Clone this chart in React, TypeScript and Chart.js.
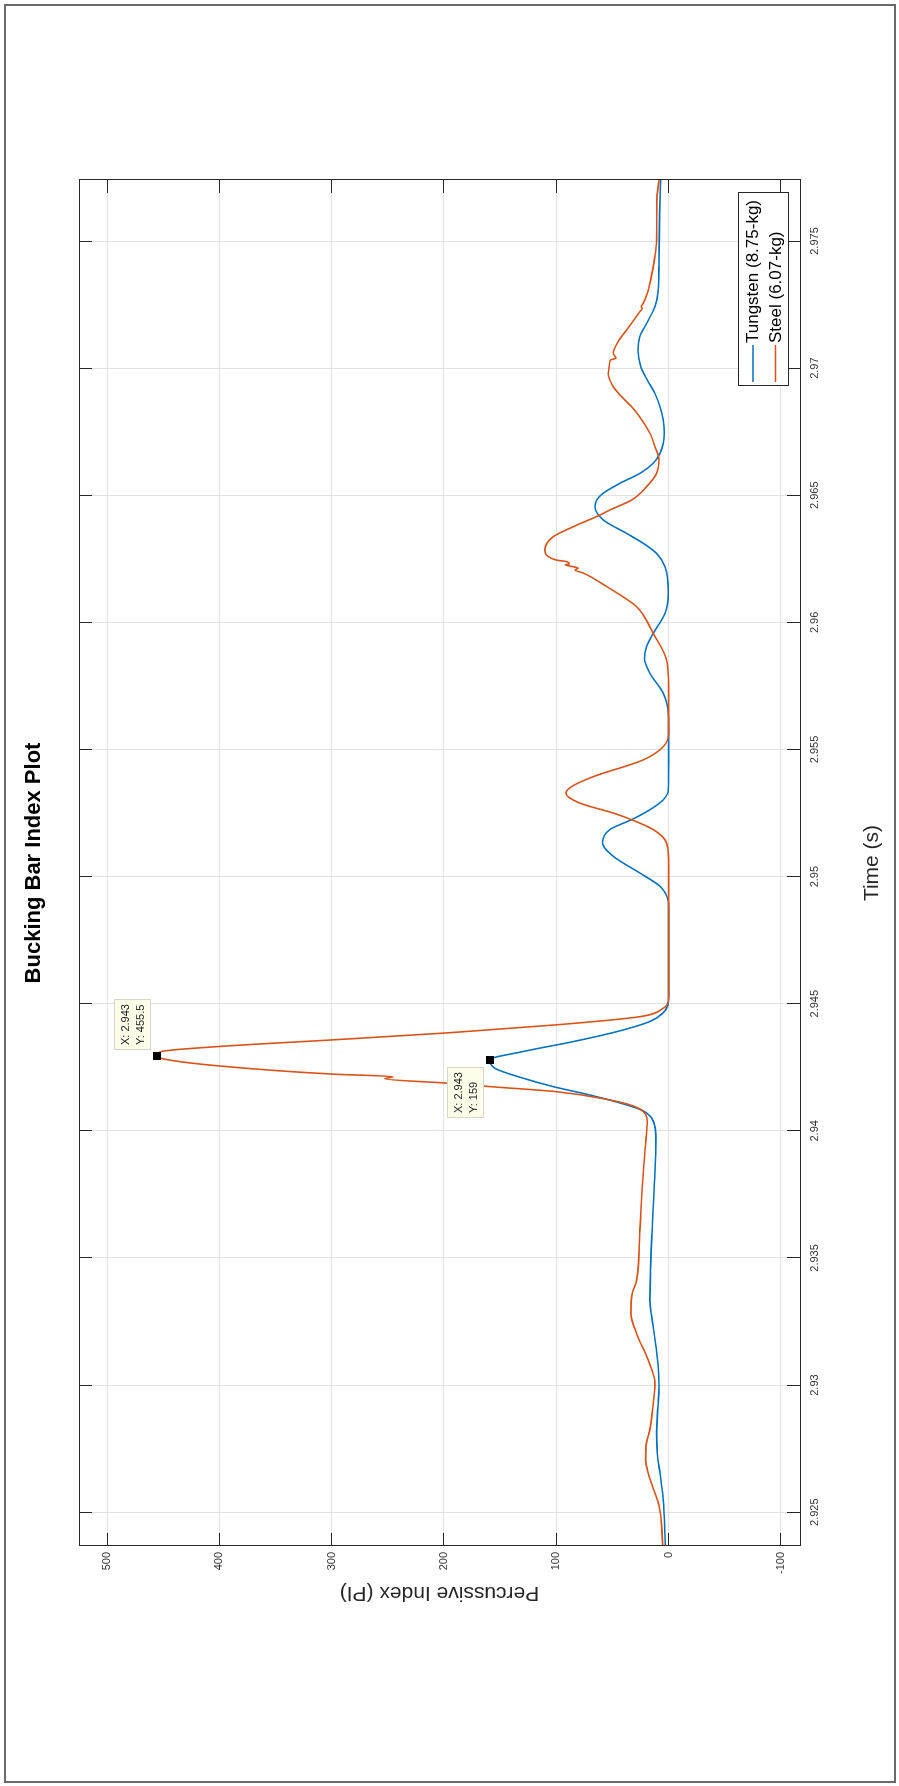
import React, { useEffect, useRef } from 'react';
import { Chart, registerables } from 'chart.js';

Chart.register(...registerables);

// ---------------- data ----------------
const chartTitle = 'Bucking Bar Index Plot';
const timeAxisTitle = 'Time (s)';
const piAxisTitle = 'Percussive Index (PI)';
const seriesNames = ['Tungsten (8.75-kg)', 'Steel (6.07-kg)'];

const timeRange = [2.92367, 2.9774];
const piRange = [-117, 525];

const timeTicks = [2.925, 2.93, 2.935, 2.94, 2.945, 2.95, 2.955, 2.96, 2.965, 2.97, 2.975];
const timeTickLabels = ['2.925', '2.93', '2.935', '2.94', '2.945', '2.95', '2.955', '2.96', '2.965', '2.97', '2.975'];
const piTicks = [-100, 0, 100, 200, 300, 400, 500];
const piTickLabels = ['-100', '0', '100', '200', '300', '400', '500'];

const tungstenTime = [
  2.92367, 2.92548, 2.92653, 2.92733, 2.92811, 2.92915, 2.92994, 2.93072, 2.9323, 2.93335,
  2.93466, 2.93702, 2.93964, 2.94016, 2.94056, 2.94082, 2.94108, 2.94141, 2.94174, 2.94207,
  2.94246, 2.94279, 2.94312, 2.94351, 2.9439, 2.9443, 2.94462, 2.94495, 2.9453, 2.947,
  2.9488, 2.94909, 2.94962, 2.95014, 2.9508, 2.95133, 2.95185, 2.95224, 2.95263, 2.95302,
  2.9534, 2.9545, 2.95565, 2.95642, 2.95721, 2.958, 2.95859, 2.95904, 2.95957, 2.96035,
  2.96114, 2.96219, 2.96271, 2.96311, 2.9635, 2.96403, 2.96455, 2.96481, 2.96508, 2.96547,
  2.96586, 2.96626, 2.96665, 2.96744, 2.96796, 2.96848, 2.96901, 2.96953, 2.97006, 2.97071,
  2.97124, 2.97176, 2.97242, 2.97307, 2.97412, 2.97609, 2.9774,
];
const tungstenPI = [
  3.0, 4.8, 7.7, 10.1, 10.7, 9.5, 8.6, 9.2, 13.7, 16.7,
  16.0, 13.7, 11.3, 12.2, 16.0, 24.0, 41.9, 70.1, 102.8, 129.5,
  154.7, 159.0, 129.5, 85.0, 46.3, 16.7, 5.3, 0.6, 0.0, 0.0,
  0.0, 0.6, 7.7, 25.6, 49.3, 58.8, 52.3, 33.0, 16.7, 4.8,
  0.3, 0.0, 0.0, 0.3, 4.8, 16.7, 21.4, 19.6, 13.7, 3.3,
  0.3, 3.3, 10.7, 22.6, 37.4, 58.2, 65.6, 64.1, 58.2, 43.4,
  25.6, 13.7, 7.7, 3.9, 4.8, 7.7, 12.2, 19.0, 24.7, 27.3,
  25.6, 19.6, 12.2, 9.2, 8.6, 8.0, 7.1,
];

const steelTime = [
  2.92367, 2.92444, 2.92522, 2.92601, 2.92653, 2.92706, 2.92758, 2.92824, 2.92928, 2.93007,
  2.93098, 2.93203, 2.93282, 2.93361, 2.93413, 2.9361, 2.93833, 2.93964, 2.94037, 2.94076,
  2.94098, 2.94124, 2.94154, 2.94174, 2.94187, 2.94205, 2.94213, 2.94223, 2.94255, 2.94283,
  2.94296, 2.94312, 2.94332, 2.94358, 2.94386, 2.94417, 2.94449, 2.94482, 2.94508,
  2.9453, 2.948, 2.95067, 2.95133, 2.95185, 2.95224, 2.9525, 2.95289, 2.95328, 2.95354,
  2.95393, 2.95459, 2.95511, 2.95564, 2.95747, 2.95852, 2.95957, 2.96029, 2.96062, 2.96141,
  2.96194, 2.96206, 2.96213, 2.96227, 2.9623, 2.96239, 2.96245, 2.96285, 2.96337, 2.96376,
  2.96422, 2.96442, 2.96481, 2.96534, 2.96586, 2.96639, 2.96691, 2.96744, 2.96822, 2.96848,
  2.96888, 2.96927, 2.9698, 2.97006, 2.97032, 2.97039, 2.97058, 2.97111, 2.9715, 2.97222,
  2.97235, 2.97242, 2.97255, 2.97294, 2.97347, 2.97438, 2.975, 2.97661, 2.9774,
];
const steelPI = [
  5.3, 6.2, 8.4, 14.3, 18.2, 20.5, 20.2, 16.7, 13.7, 12.2,
  18.2, 28.5, 33.6, 32.4, 28.5, 25.6, 22.6, 20.2, 19.0, 22.6,
  31.5, 55.2, 99.8, 159.0, 194.8, 252.7, 245.5, 298.7, 399.6, 450.0,
  455.5, 451.6, 399.6, 298.7, 194.8, 99.8, 25.6, 4.8, 0.3,
  0.0, 0.0, 0.0, 1.8, 13.7, 33.0, 49.3, 79.0, 91.5, 86.4,
  67.2, 22.6, 4.8, 0.0, 0.0, 1.8, 13.7, 22.6, 28.5, 55.2,
  76.0, 83.4, 80.5, 92.0, 88.4, 90.8, 99.8, 110.2, 102.8, 85.0,
  61.2, 52.3, 33.0, 19.6, 10.7, 8.6, 12.2, 16.7, 28.0, 33.0,
  41.9, 49.3, 53.8, 52.9, 51.7, 46.9, 49.3, 44.0, 37.4, 25.6,
  23.5, 24.4, 22.6, 19.0, 16.0, 12.2, 10.7, 10.4, 8.6,
];

// ---------------- layout / style ----------------
const W = 1786; // unrotated width (becomes page height)
const H = 899; // unrotated height (becomes page width)
const AREA = { left: 240, top: 79, right: 1606, bottom: 800 };
const FONT = '"Liberation Sans", Arial, Helvetica, sans-serif';
const BLUE = '#0072BD';
const ORANGE = '#D95319';
const AXIS = '#262626';
const TICK_LEN = 13;

function fmtY(v: number) {
  return String(Number(v.toPrecision(4)));
}

export default function App() {
  const ref = useRef<HTMLCanvasElement>(null);

  useEffect(() => {
    const canvas = ref.current;
    if (!canvas) return;

    const frame = {
      id: 'matlabFrame',
      beforeDraw(chart: any) {
        const ctx = chart.ctx;
        ctx.save();
        ctx.fillStyle = '#ffffff';
        ctx.fillRect(0, 0, W, H);
        ctx.strokeStyle = '#6a6a6a';
        ctx.lineWidth = 2;
        ctx.strokeRect(4, 5, 1777, 890);
        ctx.restore();
      },
      afterDraw(chart: any) {
        const ctx = chart.ctx;
        const xs = chart.scales.x;
        const ys = chart.scales.y;
        const a = chart.chartArea;
        const al = (p: number) => Math.round(p - 0.5) + 0.5;
        ctx.save();

        // axes box
        ctx.strokeStyle = AXIS;
        ctx.lineWidth = 1;
        ctx.strokeRect(al(a.left), al(a.top), Math.round(a.right - a.left), Math.round(a.bottom - a.top));

        // inward ticks on all four sides
        ctx.beginPath();
        for (const v of timeTicks) {
          const px = al(xs.getPixelForValue(v));
          ctx.moveTo(px, a.bottom);
          ctx.lineTo(px, a.bottom - TICK_LEN);
          ctx.moveTo(px, a.top);
          ctx.lineTo(px, a.top + TICK_LEN);
        }
        for (const v of piTicks) {
          const py = al(ys.getPixelForValue(v));
          ctx.moveTo(a.left, py);
          ctx.lineTo(a.left + TICK_LEN, py);
          ctx.moveTo(a.right, py);
          ctx.lineTo(a.right - TICK_LEN, py);
        }
        ctx.stroke();

        // data tips at the peak of each series
        const tips = [
          { t: steelTime, v: steelPI, side: 'right' },
          { t: tungstenTime, v: tungstenPI, side: 'left' },
        ];
        for (const tip of tips) {
          let idx = 0;
          tip.v.forEach((val, i) => {
            if (val > tip.v[idx]) idx = i;
          });
          const mx = xs.getPixelForValue(tip.t[idx]);
          const my = ys.getPixelForValue(tip.v[idx]);
          const l1 = 'X: ' + tip.t[idx].toFixed(3);
          const l2 = 'Y: ' + fmtY(tip.v[idx]);
          ctx.font = `11px ${FONT}`;
          const tw = Math.max(ctx.measureText(l1).width, ctx.measureText(l2).width);
          const bw = Math.round(tw + 10);
          const bh = 37;
          const bx = tip.side === 'right' ? Math.round(mx + 6) : Math.round(mx - 7 - bw);
          const by = Math.round(my - 6 - bh);
          ctx.fillStyle = '#fdfde9';
          ctx.fillRect(bx, by, bw, bh);
          ctx.strokeStyle = '#d6d6c8';
          ctx.lineWidth = 1;
          ctx.strokeRect(bx + 0.5, by + 0.5, bw - 1, bh - 1);
          ctx.fillStyle = '#222';
          ctx.textAlign = 'left';
          ctx.textBaseline = 'middle';
          ctx.fillText(l1, bx + 5, by + 11.5);
          ctx.fillText(l2, bx + 5, by + 27);
          ctx.fillStyle = '#000';
          ctx.fillRect(Math.round(mx - 4), Math.round(my - 4), 8, 8);
        }

        // legend (south-east, inside axes)
        const lx = 1400;
        const ly = 738;
        const lw = 193;
        const lh = 50;
        ctx.fillStyle = '#fff';
        ctx.fillRect(lx, ly, lw, lh);
        ctx.strokeStyle = AXIS;
        ctx.lineWidth = 1;
        ctx.strokeRect(lx + 0.5, ly + 0.5, lw, lh);
        const entries = [
          { name: seriesNames[0], color: BLUE, y: 753 },
          { name: seriesNames[1], color: ORANGE, y: 775.5 },
        ];
        ctx.font = `17px ${FONT}`;
        ctx.textAlign = 'left';
        ctx.textBaseline = 'middle';
        for (const e of entries) {
          ctx.strokeStyle = e.color;
          ctx.lineWidth = 1.6;
          ctx.beginPath();
          ctx.moveTo(lx + 4, e.y);
          ctx.lineTo(lx + 41, e.y);
          ctx.stroke();
          ctx.fillStyle = '#000';
          ctx.fillText(e.name, lx + 43, e.y + 0.5);
        }

        // title and axis titles
        const cx = (a.left + a.right) / 2;
        const cy = (a.top + a.bottom) / 2;
        ctx.fillStyle = '#000';
        ctx.textAlign = 'center';
        ctx.textBaseline = 'middle';
        ctx.font = `bold 22px ${FONT}`;
        ctx.fillText(chartTitle, cx, 34);
        ctx.fillStyle = AXIS;
        ctx.font = `21px ${FONT}`;
        ctx.fillText(timeAxisTitle, cx, 872);
        ctx.save();
        ctx.translate(193, cy);
        ctx.rotate(-Math.PI / 2);
        ctx.fillText(piAxisTitle, 0, 0);
        ctx.restore();

        ctx.restore();
      },
    };

    const chart = new Chart(canvas, {
      type: 'line',
      data: {
        datasets: [
          {
            label: seriesNames[1],
            data: steelTime.map((t, i) => ({ x: t, y: steelPI[i] })),
            borderColor: ORANGE,
            backgroundColor: ORANGE,
            borderWidth: 1.6,
            pointRadius: 0,
            cubicInterpolationMode: 'monotone',
            fill: false,
            order: 0,
          },
          {
            label: seriesNames[0],
            data: tungstenTime.map((t, i) => ({ x: t, y: tungstenPI[i] })),
            borderColor: BLUE,
            backgroundColor: BLUE,
            borderWidth: 1.6,
            pointRadius: 0,
            cubicInterpolationMode: 'monotone',
            fill: false,
            order: 1,
          },
        ],
      },
      options: {
        responsive: false,
        devicePixelRatio: 1,
        animation: false,
        events: [],
        layout: { padding: { left: 0, top: AREA.top, right: W - AREA.right, bottom: 0 } },
        plugins: {
          legend: { display: false },
          tooltip: { enabled: false },
          title: { display: false },
        },
        scales: {
          x: {
            type: 'linear',
            position: 'bottom',
            min: timeRange[0],
            max: timeRange[1],
            afterFit: (s: any) => {
              s.height = H - AREA.bottom;
            },
            afterBuildTicks: (s: any) => {
              s.ticks = timeTicks.map((v) => ({ value: v }));
            },
            ticks: {
              autoSkip: false,
              maxRotation: 0,
              minRotation: 0,
              padding: 8,
              color: '#333',
              font: { family: FONT, size: 11 },
              callback: (_v: any, i: number) => timeTickLabels[i],
            },
            grid: { color: '#e2e2e2', lineWidth: 1, drawTicks: false },
            border: { display: false },
          },
          y: {
            type: 'linear',
            position: 'left',
            min: piRange[0],
            max: piRange[1],
            afterFit: (s: any) => {
              s.width = AREA.left;
            },
            afterBuildTicks: (s: any) => {
              s.ticks = piTicks.map((v) => ({ value: v }));
            },
            ticks: {
              autoSkip: false,
              padding: 6,
              color: '#333',
              font: { family: FONT, size: 11 },
              callback: (_v: any, i: number) => piTickLabels[i],
            },
            grid: { color: '#e2e2e2', lineWidth: 1, drawTicks: false },
            border: { display: false },
          },
        },
      },
      plugins: [frame],
    } as any);

    return () => chart.destroy();
  }, []);

  return (
    <div
      style={{
        position: 'absolute',
        left: 0,
        top: 0,
        width: H,
        height: W,
        overflow: 'hidden',
        background: '#fff',
      }}
    >
      <div
        style={{
          position: 'absolute',
          left: 0,
          top: 0,
          width: W,
          height: H,
          transformOrigin: '0 0',
          transform: `translateY(${W}px) rotate(-90deg)`,
        }}
      >
        <canvas ref={ref} width={W} height={H} style={{ display: 'block', width: W, height: H }} />
      </div>
    </div>
  );
}
